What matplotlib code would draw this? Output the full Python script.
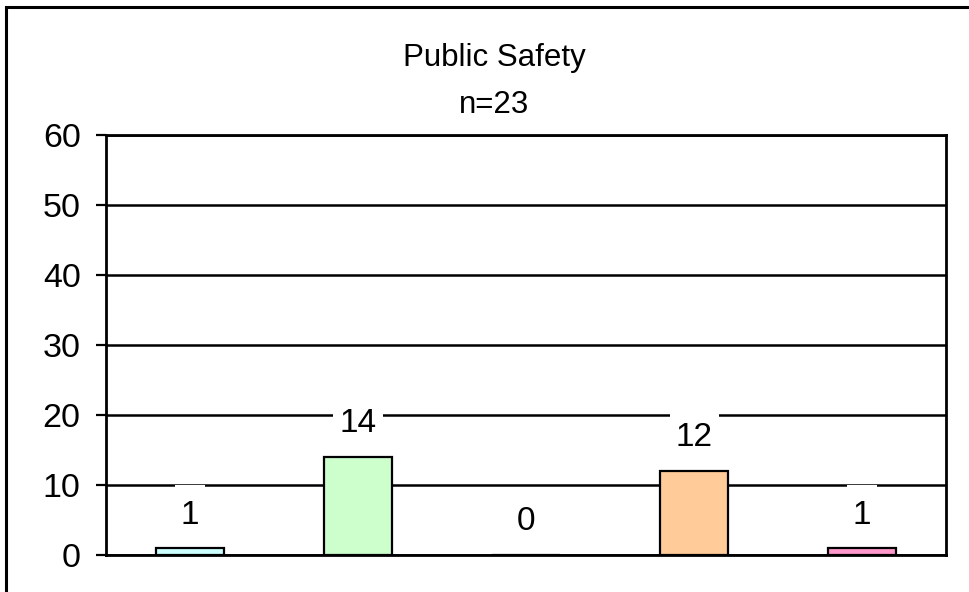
import numpy as np
import matplotlib.pyplot as plt
from matplotlib.patches import Rectangle
from matplotlib.path import Path

plt.rcParams['font.family'] = ['Liberation Sans', 'DejaVu Sans']

title = "Public Safety"
subtitle = "n=23"
values = [1, 14, 0, 12, 1]
colors = ['#CCFFFF', '#CCFFCC', '#FFFF99', '#FFCC99', '#FF99CC']
yticks = [0, 10, 20, 30, 40, 50, 60]


def label_box(x0, y0, width, height, mutation_size):
    # white box, narrow at the sides and taller above/below the digits
    px, py = 0.18 * mutation_size, 0.45 * mutation_size
    x0, x1 = x0 - px, x0 + width + px
    y0, y1 = y0 - py, y0 + height + py
    return Path([(x0, y0), (x1, y0), (x1, y1), (x0, y1), (x0, y0)], closed=True)


fig = plt.figure(figsize=(9.70, 5.92), dpi=100)
ax = fig.add_axes([106 / 970, 1 - 555 / 592, 840 / 970, 420 / 592])

# outer frame: only top and left edges fall inside the image
fig.patches.append(Rectangle((6 / 970, -0.5), 2, 1.5 - 6.5 / 592,
                             transform=fig.transFigure, fill=False,
                             edgecolor='black', linewidth=2.2))

x = np.arange(len(values))
ax.bar(x, values, width=0.405, color=colors, edgecolor='black',
       linewidth=1.6, zorder=3)

for xi, v in zip(x, values):
    ax.annotate(str(v), (xi, v), xytext=(0, 33), textcoords='offset pixels',
                ha='center', va='center', fontsize=24, zorder=4,
                bbox=dict(boxstyle=label_box, facecolor='white',
                          edgecolor='none'))

ax.set_xlim(-0.5, len(values) - 0.5)
ax.set_ylim(0, 60)
ax.set_yticks(yticks)
ax.set_xticks([])
ax.yaxis.grid(True, color='black', linewidth=1.8, zorder=0)
ax.set_axisbelow(True)
ax.tick_params(axis='y', labelsize=24.5, length=7.2, width=1.6, pad=11)
for sp in ax.spines.values():
    sp.set_linewidth(2.0)

fig.text(494 / 970, 1 - 58 / 592, title, ha='center', va='center', fontsize=22.5)
fig.text(494 / 970, 1 - 105 / 592, subtitle, ha='center', va='center', fontsize=22.5)

fig.savefig('out.png', dpi=100, facecolor='white')
